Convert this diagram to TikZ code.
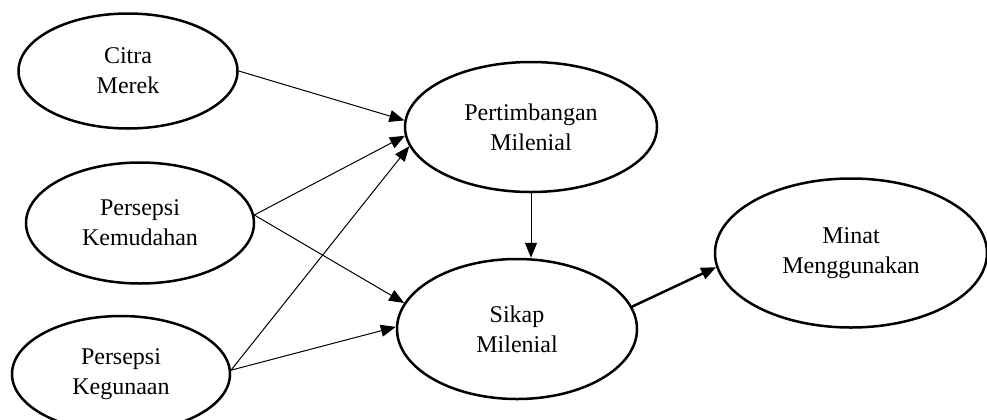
\documentclass[tikz,border=0pt]{standalone}
\usepackage{fontspec}
\setmainfont{Liberation Serif}
\usetikzlibrary{arrows.meta, positioning, shapes.geometric, calc}

\begin{document}
\begin{tikzpicture}[x=0.5pt, y=-0.5pt,
    construct/.style={draw, ellipse, line width=1.25pt, inner sep=0pt, align=center, font=\fontsize{12}{15}\selectfont},
    path/.style={-{Triangle[length=7.5pt, width=6pt]}, line width=0.5pt}]
    \useasboundingbox (0,0) rectangle (987,419);

    % Exogenous constructs
    \node[construct, minimum width=109.5pt, minimum height=57.5pt] (citra) at (128,71) {Citra\\Merek};
    \node[construct, minimum width=114pt, minimum height=60.5pt] (mudah) at (140,223) {Persepsi\\Kemudahan};
    \node[construct, minimum width=109pt, minimum height=58pt] (guna) at (121,374) {Persepsi\\Kegunaan};

    % Mediators
    \node[construct, minimum width=126pt, minimum height=65pt] (timbang) at (531,127) {Pertimbangan\\Milenial};
    \node[construct, minimum width=120pt, minimum height=70pt] (sikap) at (517,329) {Sikap\\Milenial};

    % Outcome
    \node[construct, minimum width=136pt, minimum height=74.5pt] (minat) at (851,253) {Minat\\Menggunakan};

    % Paths
    \draw[path] (citra.east) -- (timbang.177);
    \draw[path] (mudah.4) -- (timbang.184);
    \draw[path] (guna.2) -- (timbang.189);
    \draw[path] (mudah.4) -- (sikap.167);
    \draw[path] (guna.2) -- (sikap.179);
    \draw[path] (timbang.south) -- (timbang.south |- sikap.north);
    \draw[path, line width=1.25pt] (sikap.11) -- (minat.186);
\end{tikzpicture}
\end{document}
